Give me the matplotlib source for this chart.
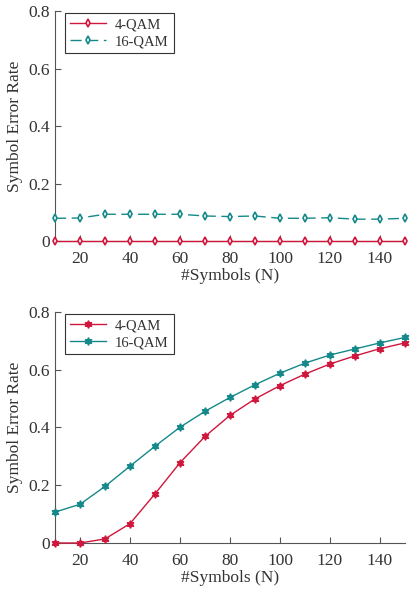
import matplotlib
matplotlib.use('Agg')
import matplotlib.pyplot as plt

plt.rcParams['font.family'] = ['Liberation Serif', 'DejaVu Serif']

N = [10, 20, 30, 40, 50, 60, 70, 80, 90, 100, 110, 120, 130, 140, 150]

# 위쪽 그림
top_4qam = [0, 0, 0, 0, 0, 0, 0, 0, 0, 0, 0, 0, 0, 0, 0]
top_16qam = [0.079, 0.080, 0.093, 0.093, 0.093, 0.093, 0.087, 0.085, 0.087,
             0.079, 0.079, 0.081, 0.076, 0.076, 0.079]

# 아래쪽 그림
bot_4qam = [0.0, 0.0, 0.014, 0.067, 0.170, 0.278, 0.369, 0.442, 0.499,
            0.545, 0.585, 0.620, 0.648, 0.673, 0.693]
bot_16qam = [0.107, 0.134, 0.196, 0.266, 0.335, 0.401, 0.456, 0.504, 0.548,
             0.588, 0.623, 0.651, 0.672, 0.693, 0.712]

red = '#d0163c'
teal = '#15898a'
txt = '#333333'
hexagram = (6, 1, 0)

fig = plt.figure(figsize=(4.12, 5.92), dpi=100)
ax1 = fig.add_axes([0.1335, 0.5929, 0.8495, 0.3885])
ax2 = fig.add_axes([0.1335, 0.0828, 0.8495, 0.3902])

ax1.plot(N, top_4qam, '-', color=red, marker='d', ms=4, mfc='white', mew=1.2,
         lw=1, label='4-QAM', clip_on=False, zorder=3)
ax1.plot(N, top_16qam, '--', color=teal, marker='d', ms=4, mfc='white', mew=1.2,
         lw=1, dashes=(8, 4), label='16-QAM', clip_on=False, zorder=3)

ax2.plot(N, bot_4qam, '-', color=red, marker=hexagram, ms=5.5, lw=1,
         label='4-QAM', clip_on=False, zorder=3)
ax2.plot(N, bot_16qam, '-', color=teal, marker=hexagram, ms=5.5, lw=1,
         label='16-QAM', clip_on=False, zorder=3)

for ax in (ax1, ax2):
    ax.set_xlim(10, 150)
    ax.set_ylim(0, 0.8)
    ax.set_xticks([20, 40, 60, 80, 100, 120, 140])
    ax.set_yticks([0, 0.2, 0.4, 0.6, 0.8])
    ax.set_yticklabels(['0', '0.2', '0.4', '0.6', '0.8'])
    ax.spines['top'].set_visible(False)
    ax.spines['right'].set_visible(False)
    ax.spines['left'].set_color('#555555')
    ax.spines['bottom'].set_color('#555555')
    ax.tick_params(direction='in', length=4, width=0.8, colors='#555555',
                   labelcolor=txt, labelsize=12.5)
    ax.tick_params(axis='x', pad=7)
    ax.set_xlabel('#Symbols (N)', fontsize=12.5, color=txt, labelpad=1)
    ax.set_ylabel('Symbol Error Rate', fontsize=12.5, color=txt, labelpad=4)
    leg = ax.legend(loc='upper left', bbox_to_anchor=(0.022, 1.0), fontsize=10.5,
                    fancybox=False, edgecolor='#333333', framealpha=1,
                    handlelength=2.5, borderpad=0.35, labelspacing=0.25,
                    handletextpad=0.6, borderaxespad=0.15)
    leg.get_frame().set_linewidth(0.8)
    for t in leg.get_texts():
        t.set_color(txt)

fig.savefig('out.png', dpi=100)
